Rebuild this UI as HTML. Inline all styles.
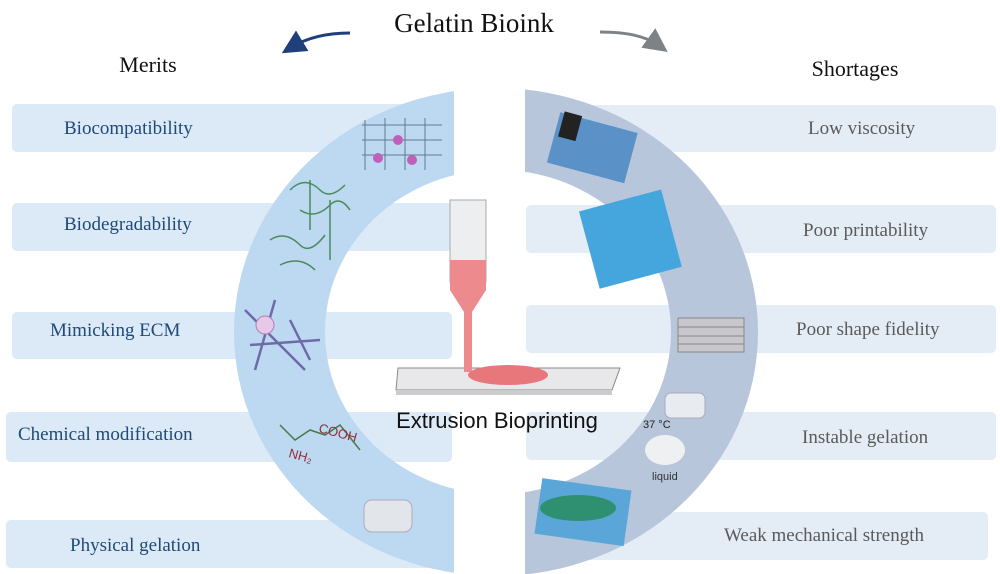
<!DOCTYPE html>
<html><head><meta charset="utf-8"><style>
body{margin:0;background:#fff;}
svg{display:block;}
.l{font-family:"Liberation Serif",serif;font-size:19px;fill:#1f4a78;}
.r{font-family:"Liberation Serif",serif;font-size:19px;fill:#5a5a5a;}
</style></head><body>
<svg width="1000" height="574" viewBox="0 0 1000 574" xmlns="http://www.w3.org/2000/svg">
<defs>
<clipPath id="cl"><rect x="0" y="0" width="454" height="574"/></clipPath>
<clipPath id="cr"><rect x="525" y="0" width="475" height="574"/></clipPath>
<marker id="ab" markerWidth="8" markerHeight="8" refX="4" refY="4" orient="auto"><path d="M0,0 L8,4 L0,8 z" fill="#1f3f7a"/></marker>
<marker id="ag" markerWidth="8" markerHeight="8" refX="4" refY="4" orient="auto"><path d="M0,0 L8,4 L0,8 z" fill="#7d8286"/></marker>
</defs>
<g fill="#dce9f6">
<rect x="12" y="104" width="440" height="48" rx="5"/>
<rect x="12" y="203" width="440" height="48" rx="5"/>
<rect x="12" y="312" width="440" height="47" rx="5"/>
<rect x="6" y="412" width="446" height="50" rx="5"/>
<rect x="6" y="520" width="446" height="48" rx="5"/>
</g>
<g fill="#e4ecf5">
<rect x="526" y="105" width="470" height="47" rx="5"/>
<rect x="526" y="205" width="470" height="48" rx="5"/>
<rect x="526" y="305" width="470" height="48" rx="5"/>
<rect x="526" y="412" width="470" height="48" rx="5"/>
<rect x="526" y="512" width="462" height="48" rx="5"/>
</g>
<path clip-path="url(#cl)" fill="#bcd9f1" fill-rule="evenodd" d="M234,332 a262,244 0 1,0 524,0 a262,244 0 1,0 -524,0 Z M325,332 a173,162 0 1,0 346,0 a173,162 0 1,0 -346,0 Z"/>
<path clip-path="url(#cr)" fill="#b7c6da" fill-rule="evenodd" d="M234,332 a262,244 0 1,0 524,0 a262,244 0 1,0 -524,0 Z M325,332 a173,162 0 1,0 346,0 a173,162 0 1,0 -346,0 Z"/>
<text x="474" y="32" text-anchor="middle" font-family="Liberation Serif,serif" font-size="27" fill="#111">Gelatin Bioink</text>
<path d="M350,33 Q315,33 292,47" stroke="#1f3f7a" stroke-width="3" fill="none" marker-end="url(#ab)"/>
<path d="M600,32 Q640,32 658,45" stroke="#7d8286" stroke-width="3" fill="none" marker-end="url(#ag)"/>
<text x="148" y="72" text-anchor="middle" font-family="Liberation Serif,serif" font-size="22" fill="#111">Merits</text>
<text x="855" y="76" text-anchor="middle" font-family="Liberation Serif,serif" font-size="22" fill="#111">Shortages</text>
<text class="l" x="64" y="134">Biocompatibility</text>
<text class="l" x="64" y="230">Biodegradability</text>
<text class="l" x="50" y="336">Mimicking ECM</text>
<text class="l" x="18" y="440">Chemical modification</text>
<text class="l" x="70" y="551">Physical gelation</text>
<text class="r" x="808" y="134">Low viscosity</text>
<text class="r" x="803" y="236">Poor printability</text>
<text class="r" x="796" y="335">Poor shape fidelity</text>
<text class="r" x="802" y="443">Instable gelation</text>
<text class="r" x="724" y="541">Weak  mechanical strength</text>
<g stroke="#4a8a5c" stroke-width="1.5" fill="none">
<path d="M290,190 q15,-15 30,0 q10,10 25,-5 M300,210 q15,10 30,-5 q10,-10 20,5 M270,240 q15,-10 30,5 q10,10 25,-10 M280,265 q20,-10 35,5 M310,180 v50 M330,200 v60"/>
</g>
<g stroke="#5f7a8a" stroke-width="1" fill="none">
<path d="M362,125 h80 M362,140 h80 M362,155 h80 M365,120 v50 M385,118 v52 M405,118 v52 M425,118 v52"/>
</g>
<g fill="#c060b8"><circle cx="378" cy="158" r="5"/><circle cx="398" cy="140" r="5"/><circle cx="412" cy="160" r="5"/></g>
<g stroke="#6f6aa8" stroke-width="2.5" fill="none">
<path d="M245,310 l60,60 M250,345 l70,-5 M275,300 l-20,70 M290,320 l20,40"/>
</g>
<circle cx="265" cy="325" r="9" fill="#e8c8e8" stroke="#b080b0"/>
<path d="M280,425 l15,15 l15,-10 l15,5 l15,-10 l20,25" stroke="#4a7a4a" stroke-width="1.5" fill="none"/>
<text x="318" y="432" font-family="Liberation Sans,sans-serif" font-size="13" fill="#9a2a3a" transform="rotate(15 318 432)">COOH</text>
<text x="288" y="457" font-family="Liberation Sans,sans-serif" font-size="13" fill="#9a2a3a" transform="rotate(15 288 457)">NH₂</text>
<rect x="364" y="500" width="48" height="32" rx="8" fill="#e2e6ea" stroke="#aab"/>
<rect x="552" y="122" width="80" height="52" fill="#5a92c8" transform="rotate(15 593 149)"/>
<rect x="556" y="120" width="18" height="26" fill="#222" transform="rotate(15 593 149)"/>
<rect x="588" y="200" width="85" height="80" fill="#45a6de" transform="rotate(-15 627 240)"/>
<rect x="678" y="318" width="66" height="34" fill="#c8c8cc" stroke="#888"/>
<g stroke="#888" stroke-width="1"><path d="M678,327 h66 M678,336 h66 M678,344 h66"/></g>
<rect x="665" y="393" width="40" height="25" rx="6" fill="#e8ecf0" stroke="#aab"/>
<text x="643" y="428" font-family="Liberation Sans,sans-serif" font-size="11" fill="#222">37 °C</text>
<ellipse cx="665" cy="450" rx="20" ry="15" fill="#eef0f2"/>
<text x="652" y="480" font-family="Liberation Sans,sans-serif" font-size="11" fill="#333">liquid</text>
<rect x="538" y="484" width="90" height="56" fill="#5aa6d8" transform="rotate(8 582 512)"/>
<ellipse cx="578" cy="508" rx="38" ry="13" fill="#2e9070"/>
<path d="M398,368 L620,368 L612,390 L396,390 Z" fill="#e8e8ea" stroke="#888"/>
<rect x="396" y="390" width="216" height="5" fill="#ccc"/>
<rect x="450" y="200" width="36" height="82" fill="#eceef0" stroke="#aaa"/>
<path d="M450,260 h36 v30 l-14,22 v60 h-8 v-60 l-14,-22 Z" fill="#ec8a8e"/>
<ellipse cx="508" cy="375" rx="40" ry="10" fill="#e8777c"/>
<text x="497" y="428" text-anchor="middle" font-family="Liberation Sans,sans-serif" font-size="22" fill="#111">Extrusion Bioprinting</text>
</svg>
</body></html>
